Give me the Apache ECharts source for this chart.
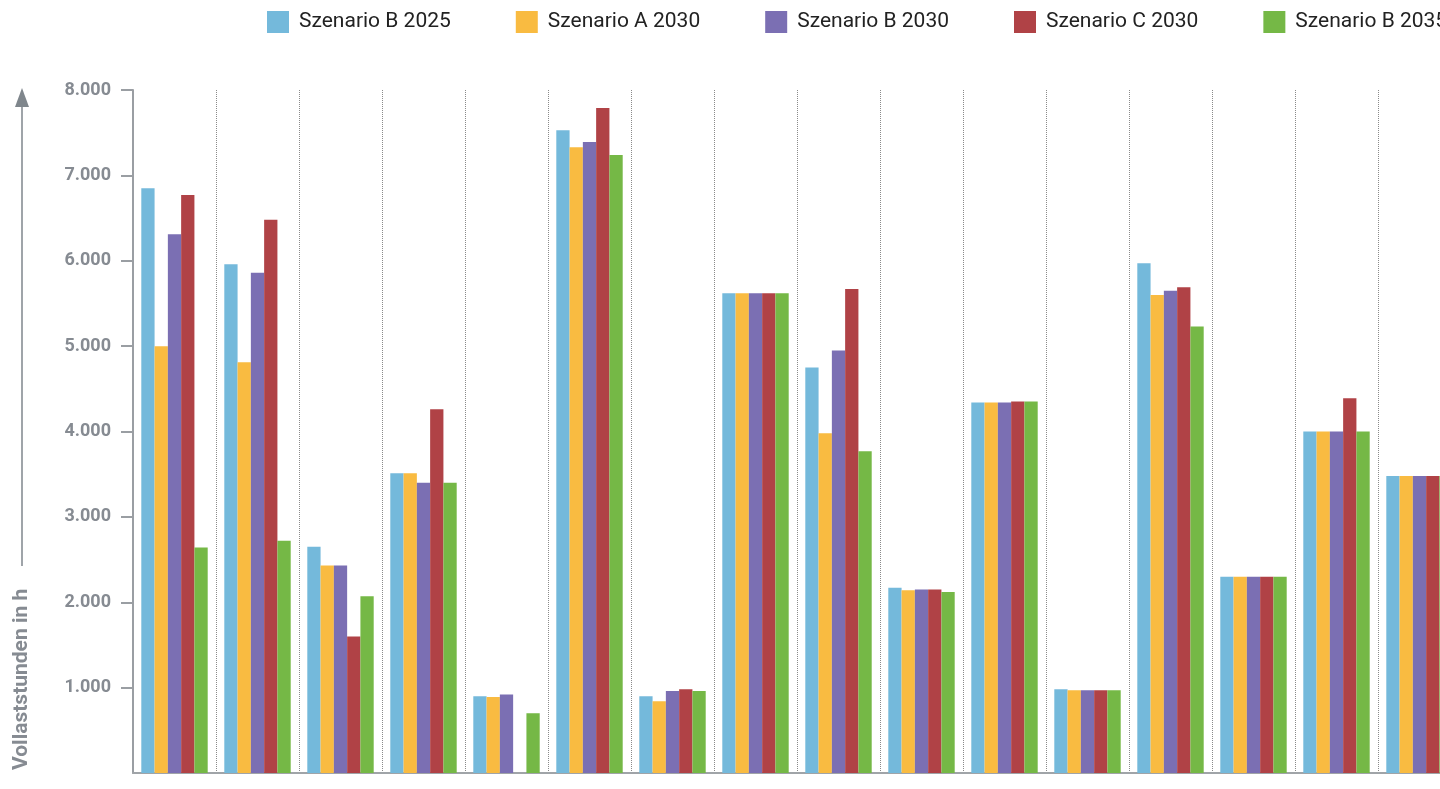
<!DOCTYPE html>
<html lang="de">
<head>
  <meta charset="UTF-8">
  <title>Volllaststunden</title>
  <script src="https://cdn.jsdelivr.net/npm/echarts@6/dist/echarts.min.js"></script>
  <style>
    html, body { margin: 0; padding: 0; background: #fff; }
    #chart { width: 1440px; height: 789px; }
  </style>
</head>
<body>
<div id="chart"></div>
<script>
  // 16 Kategorien ohne Beschriftung im Original
  const categories = ['1', '2', '3', '4', '5', '6', '7', '8', '9', '10', '11', '12', '13', '14', '15', '16'];
  const seriesNames = ['Szenario B 2025', 'Szenario A 2030', 'Szenario B 2030', 'Szenario C 2030', 'Szenario B 2035'];
  const colors = ['#74b9db', '#f9bb41', '#7b6fb3', '#b04246', '#75b846'];

  const b2025 = [6850, 5960, 2650, 3510, 900, 7530, 900, 5620, 4750, 2170, 4340, 980, 5970, 2300, 4000, 3480];
  const a2030 = [5000, 4810, 2430, 3510, 890, 7330, 840, 5620, 3980, 2140, 4340, 970, 5600, 2300, 4000, 3480];
  const b2030 = [6310, 5860, 2430, 3400, 920, 7390, 960, 5620, 4950, 2150, 4340, 970, 5650, 2300, 4000, 3480];
  const c2030 = [6770, 6480, 1600, 4260, null, 7790, 980, 5620, 5670, 2150, 4350, 970, 5690, 2300, 4390, 3480];
  const b2035 = [2640, 2720, 2070, 3400, 700, 7240, 960, 5620, 3770, 2120, 4350, 970, 5230, 2300, 4000, 3480];

  const yTicks = [0, 1000, 2000, 3000, 4000, 5000, 6000, 7000, 8000];

  const allData = [b2025, a2030, b2030, c2030, b2035];
  const grey = '#868b92';

  const chart = echarts.init(document.getElementById('chart'));
  chart.setOption({
    animation: false,
    color: colors,
    legend: {
      top: 6,
      left: 262,
      width: 1400,
      itemWidth: 22,
      itemHeight: 22,
      itemGap: 65,
      icon: 'rect',
      textStyle: { color: '#222', fontSize: 21, fontFamily: 'Roboto', padding: [0, 0, 0, 5] }
    },
    // the plot runs past the right edge of the picture
    grid: { left: 133, top: 90, bottom: 16, width: 1328, outerBoundsMode: 'none', containLabel: false },
    xAxis: {
      type: 'category',
      data: categories,
      axisLine: { lineStyle: { color: '#a0a4a8', width: 2 } },
      axisTick: { show: false },
      axisLabel: { show: false },
      splitLine: { show: true, interval: 0, lineStyle: { color: '#8a8a8a', type: 'dotted', width: 1 } }
    },
    yAxis: {
      type: 'value',
      min: yTicks[0],
      max: yTicks[yTicks.length - 1],
      interval: 1000,
      axisLine: { show: true, lineStyle: { color: '#9a9ea3', width: 2 } },
      axisTick: { show: true, length: 12, lineStyle: { color: '#9a9ea3', width: 2 } },
      splitLine: { show: false },
      axisLabel: {
        margin: 22,
        color: grey,
        fontSize: 18,
        fontWeight: 'bold',
        fontFamily: 'Roboto',
        showMinLabel: false,
        formatter: v => v === 0 ? '' : (v / 1000).toFixed(0) + '.000'
      }
    },
    graphic: [
      {
        type: 'text',
        x: 22, y: 770,
        rotation: Math.PI / 2,
        style: {
          text: 'Vollaststunden in h',
          fill: grey,
          font: 'bold 21px Roboto',
          textAlign: 'left',
          textVerticalAlign: 'middle'
        }
      },
      {
        type: 'line',
        shape: { x1: 22, y1: 566, x2: 22, y2: 104 },
        style: { stroke: '#7f868c', lineWidth: 1.5 }
      },
      {
        type: 'polygon',
        shape: { points: [[22, 88], [15, 107], [29, 107]] },
        style: { fill: '#7f868c' }
      }
    ],
    series: seriesNames.map((name, i) => ({
      name: name,
      type: 'bar',
      data: allData[i],
      barGap: '0%',
      barCategoryGap: '20%',
      itemStyle: { color: colors[i] }
    }))
  });
</script>
</body>
</html>
